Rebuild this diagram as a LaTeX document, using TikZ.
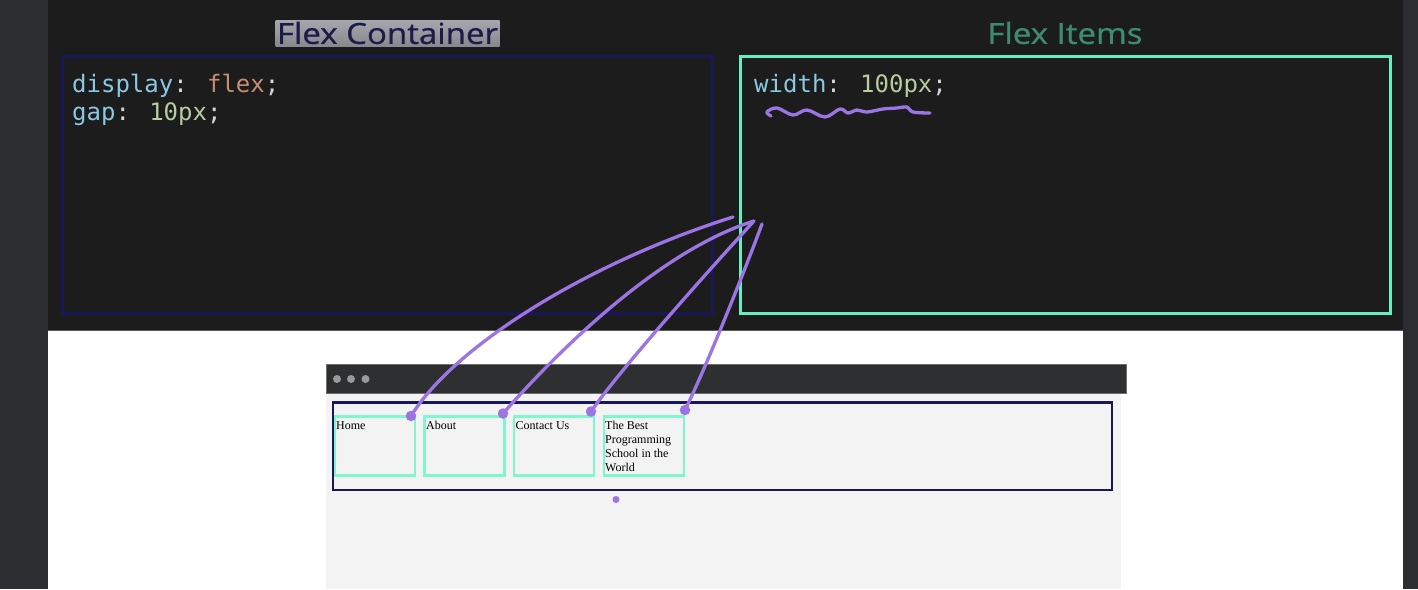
\documentclass[tikz,border=0pt]{standalone}
\usepackage{fontspec}
\setmainfont{Liberation Serif}
\newfontfamily\codefont{DejaVu Sans Mono}
\newfontfamily\headfont[FakeStretch=1.14, FakeBold=0.8]{Open Sans}

\definecolor{sidebar}{HTML}{2C2D30}
\definecolor{editorbg}{HTML}{1C1C1C}
\definecolor{sepline}{HTML}{5A5A5A}
\definecolor{navyline}{HTML}{17175A}
\definecolor{aqualine}{HTML}{66EDC0}
\definecolor{itemline}{HTML}{7FF5D0}
\definecolor{headnavy}{HTML}{1B1B48}
\definecolor{headgreen}{HTML}{3E8C70}
\definecolor{hltop}{HTML}{A6A6AE}
\definecolor{hlbot}{HTML}{88888F}
\definecolor{codeprop}{HTML}{8CC8E2}
\definecolor{codepunct}{HTML}{D4D4D4}
\definecolor{codestr}{HTML}{C98C70}
\definecolor{codenum}{HTML}{B5CEA0}
\definecolor{pen}{HTML}{9D74E4}
\definecolor{barbg}{HTML}{2E2F31}
\definecolor{pagebg}{HTML}{F3F3F3}
\definecolor{dotgray}{HTML}{9A9A9A}

\begin{document}
\begin{tikzpicture}[x=1pt,y=-1pt,
  codebox/.style={line width=3pt},
  heading/.style={font=\headfont\fontsize{29}{32}\selectfont, inner sep=0pt},
  code/.style={font=\codefont\fontsize{24}{28}\selectfont, text=codepunct, anchor=base west, inner sep=0pt},
  itembox/.style={draw=itemline, line width=2.4pt, fill=pagebg, minimum width=80pt, minimum height=59pt, inner sep=0pt},
  itemtext/.style={font=\fontsize{12}{14}\selectfont, align=left, anchor=north west, inner sep=0pt, text=black},
  pin/.style={circle, fill=pen, inner sep=0pt, minimum size=10.5pt},
  penline/.style={draw=pen, line width=3.3pt, line cap=round, line join=round}
]
\useasboundingbox (0,0) rectangle (1418,589);

% window backdrop, editor pane and preview pane
\fill[sidebar] (0,0) rectangle (1418,589);
\fill[editorbg] (48,0) rectangle (1403,330);
\fill[white] (48,331) rectangle (1403,589);
\draw[sepline, line width=1pt] (48,330.5) -- (1403,330.5);

% headings
\node[heading, text=headnavy, top color=hltop, bottom color=hlbot,
      minimum width=224pt, minimum height=26pt] (hcont) at (387.5,33) {Flex Container};
\node[heading, text=headgreen] (hitems) at (1065,33) {Flex Items};

% code panes
\draw[codebox, draw=navyline] (62,56) rectangle (712,313);
\draw[codebox, draw=aqualine] (740,56) rectangle (1390,313);

\node[code] (c1) at (72,92) {\textcolor{codeprop}{display}: \textcolor{codestr}{flex};};
\node[code] (c2) at (72,120) {\textcolor{codeprop}{gap}: \textcolor{codenum}{10px};};
\node[code] (c3) at (754,92) {\textcolor{codeprop}{width}: \textcolor{codenum}{100px};};

% hand-drawn underline
\draw[penline] plot[smooth, tension=0.6] coordinates {(771,116) (767,112) (777,108) (793,115) (807,110) (825,117) (840,109) (848,113) (857,110) (867,112) (883,109) (897,108) (907,107) (913,112) (930,113)};

% browser window
\fill[pagebg] (326,393) rectangle (1121,589);
\draw[barbg!70!white, fill=barbg, line width=0.8pt] (326,364) rectangle (1126,393);
\foreach \dx/\nm in {337/d1, 351/d2, 365.5/d3}
  \node[circle, fill=dotgray, inner sep=0pt, minimum size=8pt] (\nm) at (\dx,379) {};

% flex container and items
\draw[navyline, line width=2.2pt] (333,402.5) rectangle (1112,490);
\node[itembox] (home)    at (375,446) {};
\node[itembox] (about)   at (464.5,446) {};
\node[itembox] (contact) at (554,446) {};
\node[itembox] (best)    at (644,446) {};

\node[itemtext] (thome)    at (336,421) {Home};
\node[itemtext] (tabout)   at (426,421) {About};
\node[itemtext] (tcontact) at (515.5,421) {Contact Us};
\node[itemtext] (tbest)    at (605,421) {The Best\\Programming\\School in the\\World};

% pins on the items and the ends inside the width rule
\node[pin] (phome)    at (411,416) {};
\node[pin] (pabout)   at (503,413.5) {};
\node[pin] (pcontact) at (591,411.5) {};
\node[pin] (pbest)    at (685,410) {};
\node[pin, minimum size=7pt] (stray) at (616,499.5) {};

\coordinate (tipA) at (733,217);
\coordinate (tipB) at (754,221);
\coordinate (tipC) at (762,224);

\draw[penline] (phome.center) .. controls (455,345) and (590,262) .. (tipA);
\draw[penline] (pabout.center) .. controls (550,360) and (655,252) .. (tipB);
\draw[penline] (pcontact.center) .. controls (620,370) and (700,280) .. (tipB);
\draw[penline] (pbest.center) .. controls (705,370) and (745,270) .. (tipC);
\end{tikzpicture}
\end{document}
